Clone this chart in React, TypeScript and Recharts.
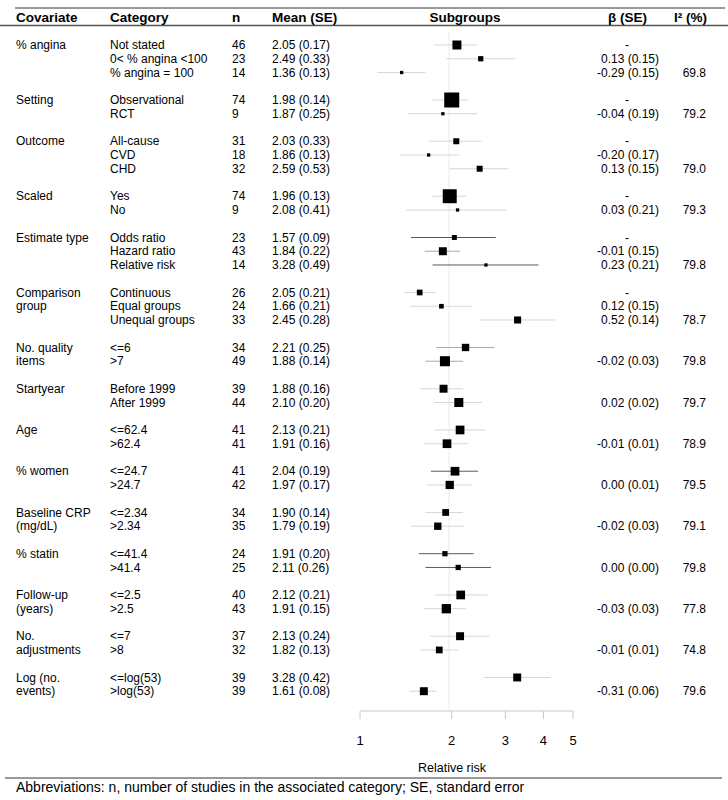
import {
  ComposedChart,
  Scatter,
  ErrorBar,
  XAxis,
  YAxis,
  ReferenceLine,
} from "recharts";

// Table columns (one entry per covariate group)
const covariates = [
  "% angina",
  "Setting",
  "Outcome",
  "Scaled",
  "Estimate type",
  "Comparison\ngroup",
  "No. quality\nitems",
  "Startyear",
  "Age",
  "% women",
  "Baseline CRP\n(mg/dL)",
  "% statin",
  "Follow-up\n(years)",
  "No.\nadjustments",
  "Log (no.\nevents)",
];

const categories: string[][] = [
  ["Not stated", "0< % angina <100", "% angina = 100"],
  ["Observational", "RCT"],
  ["All-cause", "CVD", "CHD"],
  ["Yes", "No"],
  ["Odds ratio", "Hazard ratio", "Relative risk"],
  ["Continuous", "Equal groups", "Unequal groups"],
  ["<=6", ">7"],
  ["Before 1999", "After 1999"],
  ["<=62.4", ">62.4"],
  ["<=24.7", ">24.7"],
  ["<=2.34", ">2.34"],
  ["<=41.4", ">41.4"],
  ["<=2.5", ">2.5"],
  ["<=7", ">8"],
  ["<=log(53)", ">log(53)"],
];

// per-row values (flat, same order as categories)
const nStudies = [46, 23, 14, 74, 9, 31, 18, 32, 74, 9, 23, 43, 14, 26, 24, 33, 34, 49, 39, 44, 41, 41, 41, 42, 34, 35, 24, 25, 40, 43, 37, 32, 39, 39];
const means = [2.05, 2.49, 1.36, 1.98, 1.87, 2.03, 1.86, 2.59, 1.96, 2.08, 1.57, 1.84, 3.28, 2.05, 1.66, 2.45, 2.21, 1.88, 1.88, 2.1, 2.13, 1.91, 2.04, 1.97, 1.9, 1.79, 1.91, 2.11, 2.12, 1.91, 2.13, 1.82, 3.28, 1.61];
const ses = [0.17, 0.33, 0.13, 0.14, 0.25, 0.33, 0.13, 0.53, 0.13, 0.41, 0.09, 0.22, 0.49, 0.21, 0.21, 0.28, 0.25, 0.14, 0.16, 0.2, 0.21, 0.16, 0.19, 0.17, 0.14, 0.19, 0.2, 0.26, 0.21, 0.15, 0.24, 0.13, 0.42, 0.08];

// forest plot marks
const plotEstimate = [2.08, 2.49, 1.37, 2.0, 1.87, 2.07, 1.68, 2.47, 1.97, 2.09, 2.04, 1.87, 2.59, 1.57, 1.85, 3.29, 2.22, 1.9, 1.88, 2.11, 2.13, 1.93, 2.05, 1.97, 1.91, 1.8, 1.9, 2.1, 2.14, 1.92, 2.13, 1.82, 3.28, 1.62];
const plotLower = [1.75, 1.92, 1.14, 1.73, 1.43, 1.68, 1.35, 1.97, 1.72, 1.42, 1.47, 1.63, 1.73, 1.4, 1.46, 2.47, 1.78, 1.64, 1.58, 1.75, 1.76, 1.62, 1.71, 1.66, 1.64, 1.47, 1.56, 1.64, 1.76, 1.62, 1.7, 1.58, 2.54, 1.45];
const plotUpper = [2.42, 3.23, 1.64, 2.26, 2.42, 2.5, 2.12, 3.07, 2.23, 3.03, 2.79, 2.13, 3.85, 1.77, 2.34, 4.37, 2.76, 2.18, 2.18, 2.52, 2.58, 2.26, 2.44, 2.34, 2.18, 2.2, 2.36, 2.69, 2.62, 2.23, 2.66, 2.1, 4.22, 1.78];
const weights = [60, 35, 22, 100, 22, 40, 22, 40, 93, 22, 33, 53, 22, 38, 31, 47, 49, 67, 53, 60, 58, 58, 58, 55, 45, 49, 35, 35, 58, 62, 53, 45, 53, 53];

// meta-regression columns ("-" = reference category, null = blank)
const betaEst: (number | "-" | null)[] = ["-", 0.13, -0.29, "-", -0.04, "-", -0.2, 0.13, "-", 0.03, "-", -0.01, 0.23, "-", 0.12, 0.52, null, -0.02, null, 0.02, null, -0.01, null, 0.0, null, -0.02, null, 0.0, null, -0.03, null, -0.01, null, -0.31];
const betaSe: (number | null)[] = [null, 0.15, 0.15, null, 0.19, null, 0.17, 0.15, null, 0.21, null, 0.15, 0.21, null, 0.15, 0.14, null, 0.03, null, 0.02, null, 0.01, null, 0.01, null, 0.03, null, 0.0, null, 0.03, null, 0.01, null, 0.06];
const i2: (number | null)[] = [null, null, 69.8, null, 79.2, null, null, 79.0, null, 79.3, null, null, 79.8, null, null, 78.7, null, 79.8, null, 79.7, null, 78.9, null, 79.5, null, 79.1, null, 79.8, null, 77.8, null, 74.8, null, 79.6];

const overallLine = 1.96;
const xTicks = [1, 2, 3, 4, 5];

// styling
const FONT = "'Liberation Sans', Arial, Helvetica, sans-serif";
const DARK_CI = new Set([10, 12, 22, 26, 27]);
const MID_CI = new Set([11, 16, 17]);

type Row = {
  idx: number;
  row: number;
  covLine: string;
  category: string;
  n: number;
  meanSe: string;
  est: number;
  err: [number, number];
  weight: number;
  beta: string;
  i2: string;
};

const rows: Row[] = [];
{
  let slot = 0;
  let k = 0;
  covariates.forEach((cov, g) => {
    const lines = cov.split("\n");
    categories[g].forEach((cat, j) => {
      const b = betaEst[k];
      rows.push({
        idx: k,
        row: slot,
        covLine: lines[j] ?? "",
        category: cat,
        n: nStudies[k],
        meanSe: `${means[k].toFixed(2)} (${ses[k].toFixed(2)})`,
        est: plotEstimate[k],
        err: [plotEstimate[k] - plotLower[k], plotUpper[k] - plotEstimate[k]],
        weight: weights[k],
        beta: b === null ? "" : b === "-" ? "-" : `${b.toFixed(2)} (${(betaSe[k] as number).toFixed(2)})`,
        i2: i2[k] === null ? "" : (i2[k] as number).toFixed(1),
      });
      slot++;
      k++;
    });
    slot++;
  });
}

const lightRows = rows.filter((r) => !DARK_CI.has(r.idx) && !MID_CI.has(r.idx));
const midRows = rows.filter((r) => MID_CI.has(r.idx));
const darkRows = rows.filter((r) => DARK_CI.has(r.idx));

function Box(props: any) {
  const { cx, cy, payload } = props;
  const s = payload.weight * 0.15;
  return <rect x={cx - s / 2} y={cy - s / 2} width={s} height={s} fill="#000" />;
}

function RowText(props: any) {
  const { cy, payload } = props;
  const t = { fontFamily: FONT, fontSize: 12, fill: "#000", dy: "0.35em" } as const;
  return (
    <g>
      <text x={16} y={cy} {...t}>{payload.covLine}</text>
      <text x={110} y={cy} {...t}>{payload.category}</text>
      <text x={232} y={cy} {...t}>{payload.n}</text>
      <text x={272} y={cy} {...t}>{payload.meanSe}</text>
      {payload.beta === "-" ? (
        <text x={627} y={cy} textAnchor="middle" {...t}>-</text>
      ) : (
        <text x={659} y={cy} textAnchor="end" {...t}>{payload.beta}</text>
      )}
      <text x={706} y={cy} textAnchor="end" {...t}>{payload.i2}</text>
    </g>
  );
}

const errKey = (d: Row) => d.err;

export default function App() {
  const head = { fontFamily: FONT, fontSize: 13.5, fontWeight: "bold", fill: "#000", dy: "0.35em" } as const;
  return (
    <div style={{ position: "relative", width: 728, height: 800, background: "#fff" }}>
      <style>{"body{margin:0}"}</style>
      <ComposedChart
        width={728}
        height={800}
        margin={{ top: 31.25, right: 155, left: 360, bottom: 29 }}
      >
        <XAxis
          type="number"
          dataKey="est"
          scale="log"
          domain={[1, 5]}
          ticks={xTicks}
          height={60}
          stroke="#c8c8c8"
          tickSize={8}
          tickMargin={17}
          tick={{ fill: "#000", fontSize: 13, fontFamily: FONT }}
        />
        <YAxis type="number" dataKey="row" domain={[-1, 48.44]} reversed hide />
        <ReferenceLine x={overallLine} stroke="#ececec" strokeWidth={1} />
        <Scatter data={lightRows} shape={Box} isAnimationActive={false}>
          <ErrorBar dataKey={errKey} direction="x" width={0} stroke="#d6d6d6" strokeWidth={1} isAnimationActive={false} />
        </Scatter>
        <Scatter data={midRows} shape={Box} isAnimationActive={false}>
          <ErrorBar dataKey={errKey} direction="x" width={0} stroke="#a8a8a8" strokeWidth={1} isAnimationActive={false} />
        </Scatter>
        <Scatter data={darkRows} shape={Box} isAnimationActive={false}>
          <ErrorBar dataKey={errKey} direction="x" width={0} stroke="#5a5a5a" strokeWidth={1} isAnimationActive={false} />
        </Scatter>
        <Scatter data={rows} shape={RowText} isAnimationActive={false} />
      </ComposedChart>
      <svg
        width={728}
        height={800}
        style={{ position: "absolute", left: 0, top: 0, pointerEvents: "none" }}
      >
        <line x1={15} x2={725} y1={8} y2={8} stroke="#333" strokeWidth={1} />
        <line x1={0} x2={728} y1={25.5} y2={25.5} stroke="#555" strokeWidth={1.5} />
        <text x={16} y={17} {...head}>Covariate</text>
        <text x={110} y={17} {...head}>Category</text>
        <text x={232} y={17} {...head}>n</text>
        <text x={272} y={17} {...head}>Mean (SE)</text>
        <text x={465} y={17} textAnchor="middle" {...head}>Subgroups</text>
        <text x={608} y={17} {...head}>β (SE)</text>
        <text x={674} y={17} {...head}>I² (%)</text>
        <text x={452} y={768} textAnchor="middle" fontFamily={FONT} fontSize={12.5} dy="0.35em">
          Relative risk
        </text>
        <line x1={5} x2={722} y1={778} y2={778} stroke="#333" strokeWidth={1} />
        <text x={16} y={787} fontFamily={FONT} fontSize={14} dy="0.35em">
          Abbreviations: n, number of studies in the associated category; SE, standard error
        </text>
      </svg>
    </div>
  );
}
